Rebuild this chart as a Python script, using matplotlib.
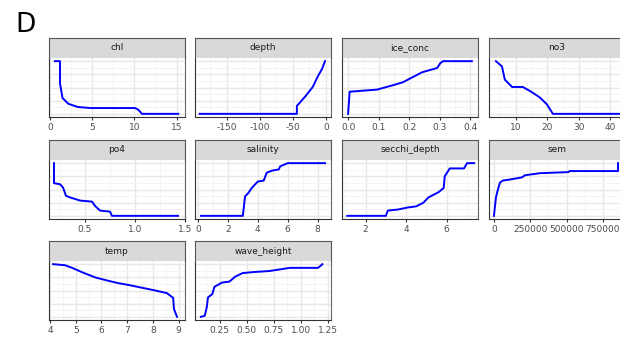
import numpy as np
import matplotlib
matplotlib.use('Agg')
import matplotlib.pyplot as plt

# partial dependence curves (y scaled 0-1 per panel)
chl_x = [0.6, 1.2, 1.2, 1.5, 2.2, 3.3, 4.8, 10.1, 10.5, 10.9, 15.2]
chl_y = [1.0, 1.0, 0.58, 0.30, 0.19, 0.13, 0.11, 0.11, 0.075, 0.0, 0.0]

depth_x = [-191, -44, -44, -32, -20, -12, -6, -1.5]
depth_y = [0.0, 0.0, 0.15, 0.32, 0.51, 0.72, 0.85, 1.0]

ice_x = [0.0, 0.005, 0.095, 0.145, 0.18, 0.203, 0.243, 0.292, 0.302, 0.311, 0.406]
ice_y = [0.0, 0.42, 0.46, 0.54, 0.60, 0.67, 0.79, 0.87, 0.96, 1.0, 1.0]

no3_x = [3.8, 5.7, 6.6, 8.9, 12.3, 15.2, 17.7, 19.9, 21.8, 47.8]
no3_y = [1.0, 0.9, 0.65, 0.51, 0.51, 0.41, 0.31, 0.18, 0.0, 0.0]

po4_x = [0.19, 0.19, 0.25, 0.28, 0.31, 0.35, 0.45, 0.57, 0.60, 0.65, 0.75, 0.77, 1.43]
po4_y = [1.0, 0.62, 0.60, 0.54, 0.38, 0.35, 0.29, 0.27, 0.19, 0.10, 0.08, 0.0, 0.0]

sal_x = [0.2, 3.0, 3.15, 3.36, 3.6, 4.0, 4.4, 4.6, 4.97, 5.4, 5.5, 6.0, 8.5]
sal_y = [0.0, 0.0, 0.37, 0.43, 0.53, 0.65, 0.67, 0.82, 0.86, 0.88, 0.94, 1.0, 1.0]

secchi_x = [1.1, 3.0, 3.1, 3.6, 4.1, 4.5, 4.85, 5.1, 5.6, 5.85, 5.9, 6.15, 6.85, 7.0, 7.35]
secchi_y = [0.0, 0.0, 0.10, 0.12, 0.16, 0.18, 0.25, 0.35, 0.45, 0.53, 0.75, 0.90, 0.90, 1.0, 1.0]

sem_x = [0, 13800, 27500, 41300, 62000, 110000, 193000, 213000, 317000, 510000, 523000, 854000, 854000]
sem_y = [0.0, 0.35, 0.50, 0.63, 0.67, 0.69, 0.73, 0.77, 0.81, 0.83, 0.85, 0.85, 1.0]

temp_x = [4.12, 4.58, 4.86, 5.28, 5.75, 6.22, 6.65, 7.11, 7.5, 8.0, 8.55, 8.79, 8.82, 8.94]
temp_y = [1.0, 0.98, 0.93, 0.84, 0.75, 0.69, 0.64, 0.6, 0.56, 0.51, 0.45, 0.36, 0.15, 0.0]

wave_x = [0.074, 0.11, 0.13, 0.14, 0.18, 0.20, 0.27, 0.34, 0.39, 0.46, 0.56, 0.71, 0.90, 1.16, 1.19, 1.20]
wave_y = [0.0, 0.02, 0.19, 0.37, 0.43, 0.57, 0.65, 0.67, 0.76, 0.83, 0.85, 0.87, 0.93, 0.93, 0.98, 1.0]

names = ['chl', 'depth', 'ice_conc', 'no3', 'po4', 'salinity', 'secchi_depth', 'sem', 'temp', 'wave_height']
xs = [chl_x, depth_x, ice_x, no3_x, po4_x, sal_x, secchi_x, sem_x, temp_x, wave_x]
ys = [chl_y, depth_y, ice_y, no3_y, po4_y, sal_y, secchi_y, sem_y, temp_y, wave_y]
ticks = [[0, 5, 10, 15], [-150, -100, -50, 0], [0.0, 0.1, 0.2, 0.3, 0.4], [10, 20, 30, 40],
         [0.5, 1.0, 1.5], [0, 2, 4, 6, 8], [2, 4, 6], [0, 250000, 500000, 750000],
         [4, 5, 6, 7, 8, 9], [0.25, 0.50, 0.75, 1.00, 1.25]]
ticklabels = [['0', '5', '10', '15'], ['-150', '-100', '-50', '0'], ['0.0', '0.1', '0.2', '0.3', '0.4'],
              ['10', '20', '30', '40'], ['0.5', '1.0', '1.5'], ['0', '2', '4', '6', '8'], ['2', '4', '6'],
              ['0', '250000', '500000', '750000'], ['4', '5', '6', '7', '8', '9'],
              ['0.25', '0.50', '0.75', '1.00', '1.25']]
xlims = [(-0.1, 16.0), (-198, 7.6), (-0.02, 0.426), (1.6, 44.6), (0.14, 1.5), (-0.2, 8.9),
         (0.84, 7.54), (-34000, 902000), (3.96, 9.25), (0.02, 1.28)]

W, H = 620, 339
fig = plt.figure(figsize=(W/100, H/100), dpi=100)
fig.text(15/W, 1 - 32/H, 'D', fontsize=19, ha='left', va='baseline')

col_left = [49, 195, 342, 489]
row_top = [58, 160, 261]
pw, ph, sh = 136, 59, 20

for i, name in enumerate(names):
    r, c = divmod(i, 4)
    l = col_left[c]
    t = row_top[r]
    ax = fig.add_axes([l/W, 1 - (t+ph)/H, pw/W, ph/H])
    ax.set_xticks(ticks[i])
    ax.set_xticklabels(ticklabels[i])
    tk = ticks[i]
    step = tk[1] - tk[0]
    minors = [tk[0] - step/2] + [v + step/2 for v in tk]
    ax.set_xticks(minors, minor=True)
    ax.set_yticks([0, 0.25, 0.5, 0.75, 1.0])
    ax.set_yticks([0.125, 0.375, 0.625, 0.875], minor=True)
    ax.set_xlim(xlims[i])
    ax.set_ylim(-0.06, 1.06)
    ax.grid(which='major', color='#E8E8E8', lw=1.0)
    ax.grid(which='minor', color='#F2F2F2', lw=0.6)
    ax.set_axisbelow(True)
    ax.plot(xs[i], ys[i], color='#0000FF', lw=1.4)
    ax.spines['top'].set_visible(False)
    ax.spines['right'].set_color('#666666')
    ax.spines['right'].set_linewidth(0.8)
    for s in ['left', 'bottom']:
        ax.spines[s].set_color('#333333')
        ax.spines[s].set_linewidth(0.8)
    ax.tick_params(axis='x', which='major', length=2.5, width=0.8, color='#333333',
                   labelsize=6.5, labelcolor='#4D4D4D', pad=2)
    ax.tick_params(axis='x', which='minor', length=0)
    ax.tick_params(axis='y', which='both', length=0, labelleft=False)
    # strip
    sax = fig.add_axes([l/W, 1 - t/H, pw/W, sh/H])
    sax.set_facecolor('#D9D9D9')
    sax.set_xticks([])
    sax.set_yticks([])
    for s in sax.spines.values():
        s.set_color('#555555')
        s.set_linewidth(0.8)
    sax.spines['bottom'].set_visible(False)
    sax.text(0.5, 0.5, name, fontsize=6.5, ha='center', va='center', color='#1A1A1A',
             transform=sax.transAxes)

fig.savefig('out.png', dpi=100)
